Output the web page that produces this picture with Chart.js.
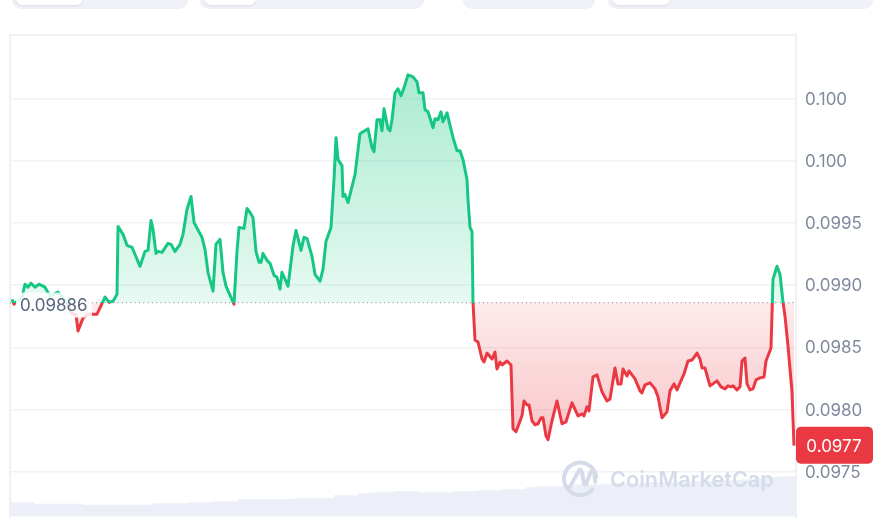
<!DOCTYPE html>
<html>
<head>
<meta charset="utf-8">
<script src="https://cdn.jsdelivr.net/npm/chart.js@4"></script>
<style>
    html, body { margin: 0; padding: 0; background: #fff; overflow: hidden; }
    #wrap { position: relative; width: 873px; height: 518px; }
    canvas { position: absolute; left: 0; top: 0; }
    .tab { position: absolute; top: -10px; height: 19px; background: #eff1f6; border-radius: 9px; }
    .pill { position: absolute; left: 4px; top: 0; height: 15px; background: #fff; border-radius: 7px; box-shadow: 0 1px 2px rgba(88,102,126,0.15); }
    #logo { position: absolute; left: 561px; top: 458px; }
    #brand { position: absolute; left: 610px; top: 464px; font: 600 21.7px Inter, sans-serif; color: #d5dbe9; line-height: 30px; }
</style>
</head>
<body>
<div id="wrap">
    <div class="tab" style="left:12px;width:176px"><div class="pill" style="width:67px"></div></div>
    <div class="tab" style="left:200px;width:224px"><div class="pill" style="width:52px"></div></div>
    <div class="tab" style="left:463px;width:132px"></div>
    <div class="tab" style="left:608px;width:265px"><div class="pill" style="width:58px"></div></div>
    <canvas id="myChart" width="873" height="518"></canvas>
    <svg id="logo" width="40" height="40" viewBox="0 0 42 42" fill="none" stroke="#d5dbe9" stroke-width="4.2" stroke-linecap="round" stroke-linejoin="round">
        <path d="M33 33 A17 17 0 1 1 37 20"/>
        <path d="M9 31 L19 13 Q21 11 22 15 L24 27 Q26 29 27 26 L31 15 Q34 11 35 16 L36 25"/>
    </svg>
    <div id="brand">CoinMarketCap</div>
</div>
<script>
const minutes = [2, 4, 8, 12, 15, 18, 21, 25, 29, 35, 40, 48, 57, 62, 66, 68, 73, 78, 85, 87, 95, 99, 103, 107, 108,
    113, 117, 122, 130, 135, 138, 141, 143, 146, 148, 152, 158, 161, 165, 170, 173, 177, 181, 184, 192, 195, 198,
    203, 206, 210, 213, 216, 224, 227, 229, 234, 237, 240, 243, 246, 249, 251, 253, 257, 260, 264, 267, 270, 272,
    278, 283, 286, 291, 294, 297, 302, 305, 310, 313, 316, 321, 324, 326, 328, 332, 333, 335, 338, 345, 350, 353,
    358, 362, 364, 367, 370, 372, 374, 378, 380, 382, 385, 388, 391, 394, 398, 403, 407, 409, 413, 415, 418, 423,
    425, 428, 431, 433, 437, 443, 447, 450, 453, 457, 458, 460, 462, 463, 465, 468, 472, 474, 477, 482, 485, 487,
    490, 492, 497, 501, 503, 506, 512, 514, 517, 519, 522, 525, 528, 531, 533, 536, 538, 542, 547, 552, 556, 562,
    568, 572, 574, 577, 579, 583, 587, 592, 597, 600, 605, 608, 611, 613, 617, 619, 625, 630, 632, 635, 640, 645,
    648, 652, 657, 660, 664, 667, 674, 678, 682, 687, 690, 692, 695, 700, 707, 711, 715, 718, 721, 723, 727, 730,
    732, 735, 737, 740, 743, 746, 750, 754, 756, 761, 763, 767, 770, 773, 775, 778, 782, 784];

const prices = [0.098887, 0.098847, 0.098879, 0.098904, 0.099008, 0.098984, 0.099016, 0.098984, 0.099008, 0.098984, 0.098912,
    0.098944, 0.098863, 0.098767, 0.098767, 0.098631, 0.098735, 0.098767, 0.098767, 0.098767, 0.098904, 0.098863,
    0.098871, 0.098928, 0.099473, 0.099409, 0.099321, 0.099305, 0.099152, 0.099272, 0.09928, 0.099521, 0.099449,
    0.099256, 0.099272, 0.099264, 0.099337, 0.099329, 0.099272, 0.099329, 0.099409, 0.099609, 0.099714, 0.099505,
    0.099385, 0.099288, 0.099104, 0.098952, 0.099329, 0.099369, 0.099104, 0.098992, 0.098847, 0.099272, 0.099465,
    0.099457, 0.099617, 0.099585, 0.099545, 0.099272, 0.099184, 0.099184, 0.099256, 0.0992, 0.099176, 0.09908,
    0.099064, 0.098968, 0.099104, 0.098992, 0.099313, 0.099441, 0.09928, 0.099385, 0.099377, 0.099232, 0.099088,
    0.099032, 0.099128, 0.099353, 0.099465, 0.09985, 0.100187, 0.10001, 0.099962, 0.099714, 0.09973, 0.099665,
    0.09989, 0.100219, 0.100235, 0.100259, 0.100107, 0.100074, 0.100331, 0.100331, 0.100243, 0.100419, 0.100259,
    0.100243, 0.100331, 0.100548, 0.10058, 0.100524, 0.100588, 0.100692, 0.100676, 0.100636, 0.100548, 0.100548,
    0.100411, 0.100395, 0.100267, 0.100339, 0.100331, 0.100395, 0.100315, 0.100387, 0.100187, 0.100082, 0.100082,
    0.10001, 0.09985, 0.099689, 0.099465, 0.099433, 0.098863, 0.098559, 0.098543, 0.098406, 0.098382, 0.098454,
    0.098406, 0.098462, 0.098326, 0.098382, 0.098358, 0.09839, 0.098358, 0.097845, 0.097821, 0.097949, 0.098069,
    0.098037, 0.098037, 0.097909, 0.097877, 0.097885, 0.097933, 0.097933, 0.097789, 0.097757, 0.097909, 0.098069,
    0.097885, 0.097901, 0.098053, 0.097949, 0.097965, 0.097949, 0.098021, 0.097989, 0.098262, 0.098278, 0.098142,
    0.098069, 0.098085, 0.098334, 0.098206, 0.098206, 0.098326, 0.09827, 0.09831, 0.098246, 0.09815, 0.098134,
    0.098198, 0.098214, 0.098166, 0.098102, 0.097933, 0.097981, 0.09815, 0.098206, 0.098158, 0.098286, 0.09839,
    0.098398, 0.098454, 0.098406, 0.098334, 0.098334, 0.09819, 0.09823, 0.098182, 0.098166, 0.09819, 0.098182,
    0.09819, 0.098158, 0.098182, 0.09839, 0.098414, 0.098206, 0.098158, 0.098166, 0.098238, 0.098254, 0.098262,
    0.09839, 0.098495, 0.099048, 0.099152, 0.099088, 0.098863, 0.098751, 0.09851, 0.098142, 0.097709];

const volumeMinutes = [6, 18, 30, 42, 54, 66, 78, 90, 102, 114, 126, 138, 150, 162, 174, 186, 198, 210, 222, 234, 246,
    258, 270, 282, 294, 306, 318, 330, 342, 354, 366, 378, 390, 402, 414, 426, 438, 450, 462, 474, 486, 498, 510, 522,
    534, 546, 558, 570, 582, 594, 606, 618, 630, 642, 654, 666, 678, 690, 702, 714, 726, 738, 750, 762, 774, 786];
const volumes = [14, 14, 12.5, 12.5, 12.5, 12.5, 11.5, 11.5, 11.5, 11.5, 11.5, 11.5, 13, 13, 13, 14, 14, 15, 15, 17, 17,
    17, 17, 17.5, 18, 18, 18, 21, 21, 23, 24, 24, 25, 25, 24, 24, 24, 25, 25, 26, 26, 27, 27, 29,
    30, 30, 30, 32, 32, 32, 33, 33, 33, 34, 34, 34, 34, 35, 35, 36, 36, 37, 38, 39, 40, 40];

const tickValues = [0.0975, 0.098, 0.0985, 0.099, 0.0995, 0.1, 0.1005];
const tickLabels = ['0.0975', '0.0980', '0.0985', '0.0990', '0.0995', '0.100', '0.100'];
const baselinePrice = 0.09886;
const baselineLabel = '0.09886';
const lastPriceLabel = '0.0977';

const GREEN = '#16c784';
const RED = '#ea3943';

const labelsPlugin = {
    id: 'priceLabels',
    beforeDraw(chart) {
        const { ctx, chartArea } = chart;
        ctx.save();
        ctx.strokeStyle = '#f0f1f5';
        ctx.lineWidth = 2;
        ctx.beginPath();
        ctx.moveTo(chartArea.left, chart.height);
        ctx.lineTo(chartArea.left, chartArea.top);
        ctx.lineTo(chartArea.right - 1, chartArea.top);
        ctx.lineTo(chartArea.right - 1, chart.height);
        ctx.stroke();
        ctx.restore();
    },
    afterDraw(chart) {
        const { ctx } = chart;
        const yScale = chart.scales.y;
        const baseY = yScale.getPixelForValue(baselinePrice);
        const lastY = yScale.getPixelForValue(prices[prices.length - 1]);

        ctx.save();
        // start price label sits over the line
        ctx.fillStyle = 'rgba(255, 255, 255, 0.85)';
        ctx.fillRect(16, baseY - 10, 76, 25);
        ctx.fillStyle = '#58667e';
        ctx.font = '17px Inter, sans-serif';
        ctx.textAlign = 'left';
        ctx.textBaseline = 'middle';
        ctx.fillText(baselineLabel, 20, baseY + 3.5);

        // last price tag
        ctx.fillStyle = RED;
        ctx.beginPath();
        ctx.roundRect(796, lastY - 19, 77, 37, 5);
        ctx.fill();
        ctx.fillStyle = '#fff';
        ctx.font = '17px Inter, sans-serif';
        ctx.textAlign = 'center';
        ctx.fillText(lastPriceLabel, 834, lastY + 1.5);
        ctx.restore();
    }
};

const ctx = document.getElementById('myChart').getContext('2d');
const chart = new Chart(ctx, {
    type: 'line',
    data: {
        datasets: [
            {
                label: 'Price',
                data: minutes.map((m, i) => ({ x: m, y: prices[i] })),
                borderColor: GREEN,
                borderWidth: 3,
                pointRadius: 0,
                tension: 0,
                borderJoinStyle: 'round',
                yAxisID: 'y',
                order: 1
            },
            {
                label: 'Start price',
                data: [{ x: 0, y: baselinePrice }, { x: 787, y: baselinePrice }],
                borderColor: '#8f96a8',
                borderWidth: 1.2,
                borderDash: [1, 3.3],
                pointRadius: 0,
                fill: false,
                yAxisID: 'y',
                order: 2
            },
            {
                type: 'bar',
                label: 'Volume',
                data: volumeMinutes.map((m, i) => ({ x: m, y: volumes[i] })),
                backgroundColor: '#eceff8',
                barThickness: 12,
                yAxisID: 'volume',
                order: 3
            }
        ]
    },
    options: {
        responsive: false,
        animation: false,
        layout: { padding: { left: 10, top: 35, right: 0, bottom: 0 } },
        plugins: { legend: { display: false }, tooltip: { enabled: false } },
        scales: {
            x: { type: 'linear', display: false, min: 0, max: 787, offset: false },
            y: {
                position: 'right',
                min: 0.097139,
                max: 0.101013,
                afterBuildTicks: (scale) => { scale.ticks = tickValues.map((v) => ({ value: v })); },
                afterFit: (scale) => {
                    scale.width = 76;
                    scale.paddingTop = 0;
                    scale.paddingBottom = 0;
                },
                border: { display: false },
                grid: { color: '#f1f2f6', lineWidth: 1.6, drawTicks: false },
                ticks: {
                    color: '#808a9d',
                    padding: 8,
                    labelOffset: 1,
                    font: { family: 'Inter, sans-serif', size: 17 },
                    callback: (value) => tickLabels[tickValues.indexOf(value)]
                }
            },
            volume: { display: false, min: 0, max: 483 }
        }
    },
    plugins: [labelsPlugin]
});

// gradients need the scale pixels, so they are set once the layout is known
const startY = chart.scales.y.getPixelForValue(baselinePrice);
const areaTop = chart.chartArea.top;
const areaBottom = chart.chartArea.bottom;
const stopAt = (startY - areaTop) / (areaBottom - areaTop);

const lineGradient = ctx.createLinearGradient(0, areaTop, 0, areaBottom);
lineGradient.addColorStop(0, GREEN);
lineGradient.addColorStop(stopAt, GREEN);
lineGradient.addColorStop(stopAt, RED);
lineGradient.addColorStop(1, RED);

const aboveGradient = ctx.createLinearGradient(0, chart.scales.y.getPixelForValue(0.1007), 0, startY);
aboveGradient.addColorStop(0, 'rgba(22, 199, 132, 0.36)');
aboveGradient.addColorStop(1, 'rgba(22, 199, 132, 0.1)');

const belowGradient = ctx.createLinearGradient(0, startY, 0, chart.scales.y.getPixelForValue(0.0977));
belowGradient.addColorStop(0, 'rgba(234, 57, 67, 0.1)');
belowGradient.addColorStop(1, 'rgba(234, 57, 67, 0.3)');

const volumeGradient = ctx.createLinearGradient(0, 478, 0, areaBottom);
volumeGradient.addColorStop(0, '#f2f4fb');
volumeGradient.addColorStop(1, '#e6eaf8');

chart.data.datasets[0].borderColor = lineGradient;
chart.data.datasets[0].fill = { target: { value: baselinePrice }, above: aboveGradient, below: belowGradient };
chart.data.datasets[2].backgroundColor = volumeGradient;
chart.update('none');
</script>
</body>
</html>
